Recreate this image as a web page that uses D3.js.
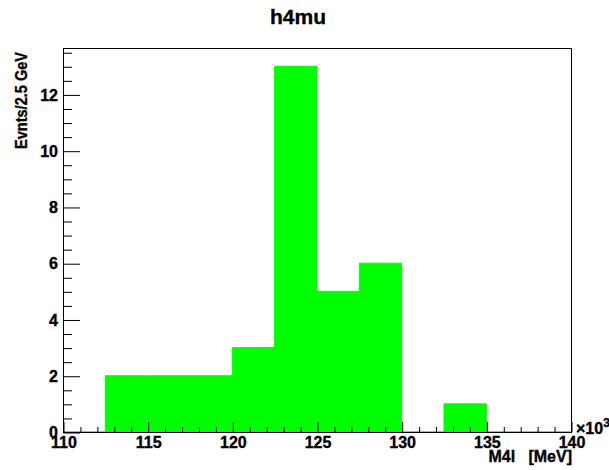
<!DOCTYPE html>
<html>
<head>
<meta charset="utf-8">
<script src="https://cdn.jsdelivr.net/npm/d3@7"></script>
<style>
  body { margin: 0; background: #fff; }
  svg { display: block; font-family: "Liberation Sans", Arial, sans-serif; font-weight: bold; }
  svg text { stroke: #000; stroke-width: 0.35px; }
</style>
</head>
<body>
<div id="chart"></div>
<script>
// bin edges (GeV, shown as x10^3 MeV) and entries per 2.5 GeV bin
const binEdges = [110, 112.5, 115, 117.5, 120, 122.5, 125, 127.5, 130, 132.5, 135, 137.5, 140];
const counts = [0, 2, 2, 2, 3, 13, 5, 6, 0, 1, 0, 0];
const xMajor = [110, 115, 120, 125, 130, 135, 140];
const yMajor = [0, 2, 4, 6, 8, 10, 12];

const W = 609, H = 470;
const frame = { left: 63, right: 571, top: 48, bottom: 432 };

const svg = d3.select("#chart").append("svg")
    .attr("width", W)
    .attr("height", H);

const x = d3.scaleLinear().domain([110, 140]).range([frame.left, frame.right]);
const y = d3.scaleLinear().domain([0, d3.max(counts) * 1.05]).range([frame.bottom, frame.top]);

// histogram as a stepped area
const pts = counts.map((c, i) => ({ x: binEdges[i], y: c }));
pts.push({ x: binEdges[binEdges.length - 1], y: counts[counts.length - 1] });

const area = d3.area()
    .curve(d3.curveStepAfter)
    .x(d => x(d.x))
    .y0(y(0))
    .y1(d => y(d.y));

svg.append("path")
    .datum(pts)
    .attr("d", area)
    .attr("fill", "#00ff00")
    .attr("stroke", "#00ff00")
    .attr("stroke-width", 1);

// frame
svg.append("rect")
    .attr("x", frame.left + 0.5)
    .attr("y", frame.top + 0.5)
    .attr("width", frame.right - frame.left)
    .attr("height", frame.bottom - frame.top)
    .attr("fill", "none")
    .attr("stroke", "#000")
    .attr("stroke-width", 1);

// x axis: minor ticks every 1, major every 5, drawn upward
const xMinor = d3.range(110, 140.001, 1).filter(v => v % 5 !== 0);
svg.append("g")
    .attr("transform", `translate(0.5,${frame.bottom})`)
    .call(d3.axisBottom(x).tickValues(xMinor).tickSize(-5).tickFormat(""))
    .call(g => g.select(".domain").remove());

svg.append("g")
    .attr("transform", `translate(0.5,${frame.bottom})`)
    .call(d3.axisBottom(x).tickValues(xMajor).tickSize(-10).tickPadding(5).tickFormat(d3.format("d")))
    .call(g => g.select(".domain").remove())
    .call(g => g.selectAll("text")
        .attr("fill", "#000")
        .style("font-size", "16px")
        .style("font-family", "Liberation Sans, Arial, sans-serif")
        .style("font-weight", "bold"));

// y axis: minor every 0.5, major every 2, drawn to the right
const yMinor = d3.range(0, 13.6, 0.5).filter(v => v % 2 !== 0);
svg.append("g")
    .attr("transform", `translate(${frame.left},0.5)`)
    .call(d3.axisLeft(y).tickValues(yMinor).tickSize(-9).tickFormat(""))
    .call(g => g.select(".domain").remove());

svg.append("g")
    .attr("transform", `translate(${frame.left},0.5)`)
    .call(d3.axisLeft(y).tickValues(yMajor).tickSize(-17).tickPadding(5).tickFormat(d3.format("d")))
    .call(g => g.select(".domain").remove())
    .call(g => g.selectAll("text")
        .attr("fill", "#000")
        .style("font-size", "16px")
        .style("font-family", "Liberation Sans, Arial, sans-serif")
        .style("font-weight", "bold"));

svg.selectAll(".tick line").attr("stroke", "#000");

// title
svg.append("text")
    .attr("x", 298)
    .attr("y", 24)
    .attr("text-anchor", "middle")
    .style("font-size", "21px")
    .text("h4mu");

// axis titles
svg.append("text")
    .attr("transform", "translate(27,52) rotate(-90)")
    .attr("text-anchor", "end")
    .attr("textLength", 97)
    .attr("lengthAdjust", "spacingAndGlyphs")
    .style("font-size", "17px")
    .text("Evnts/2.5 GeV");

svg.append("text")
    .attr("x", frame.right + 1)
    .attr("y", 462)
    .attr("text-anchor", "end")
    .style("font-size", "16px")
    .style("white-space", "pre")
    .text("M4l   [MeV]");

const mult = svg.append("text")
    .attr("x", 576)
    .attr("y", 434)
    .style("font-size", "16px");
mult.append("tspan").text("\u00d710");
mult.append("tspan").attr("dy", -7).style("font-size", "12px").text("3");
</script>
</body>
</html>
